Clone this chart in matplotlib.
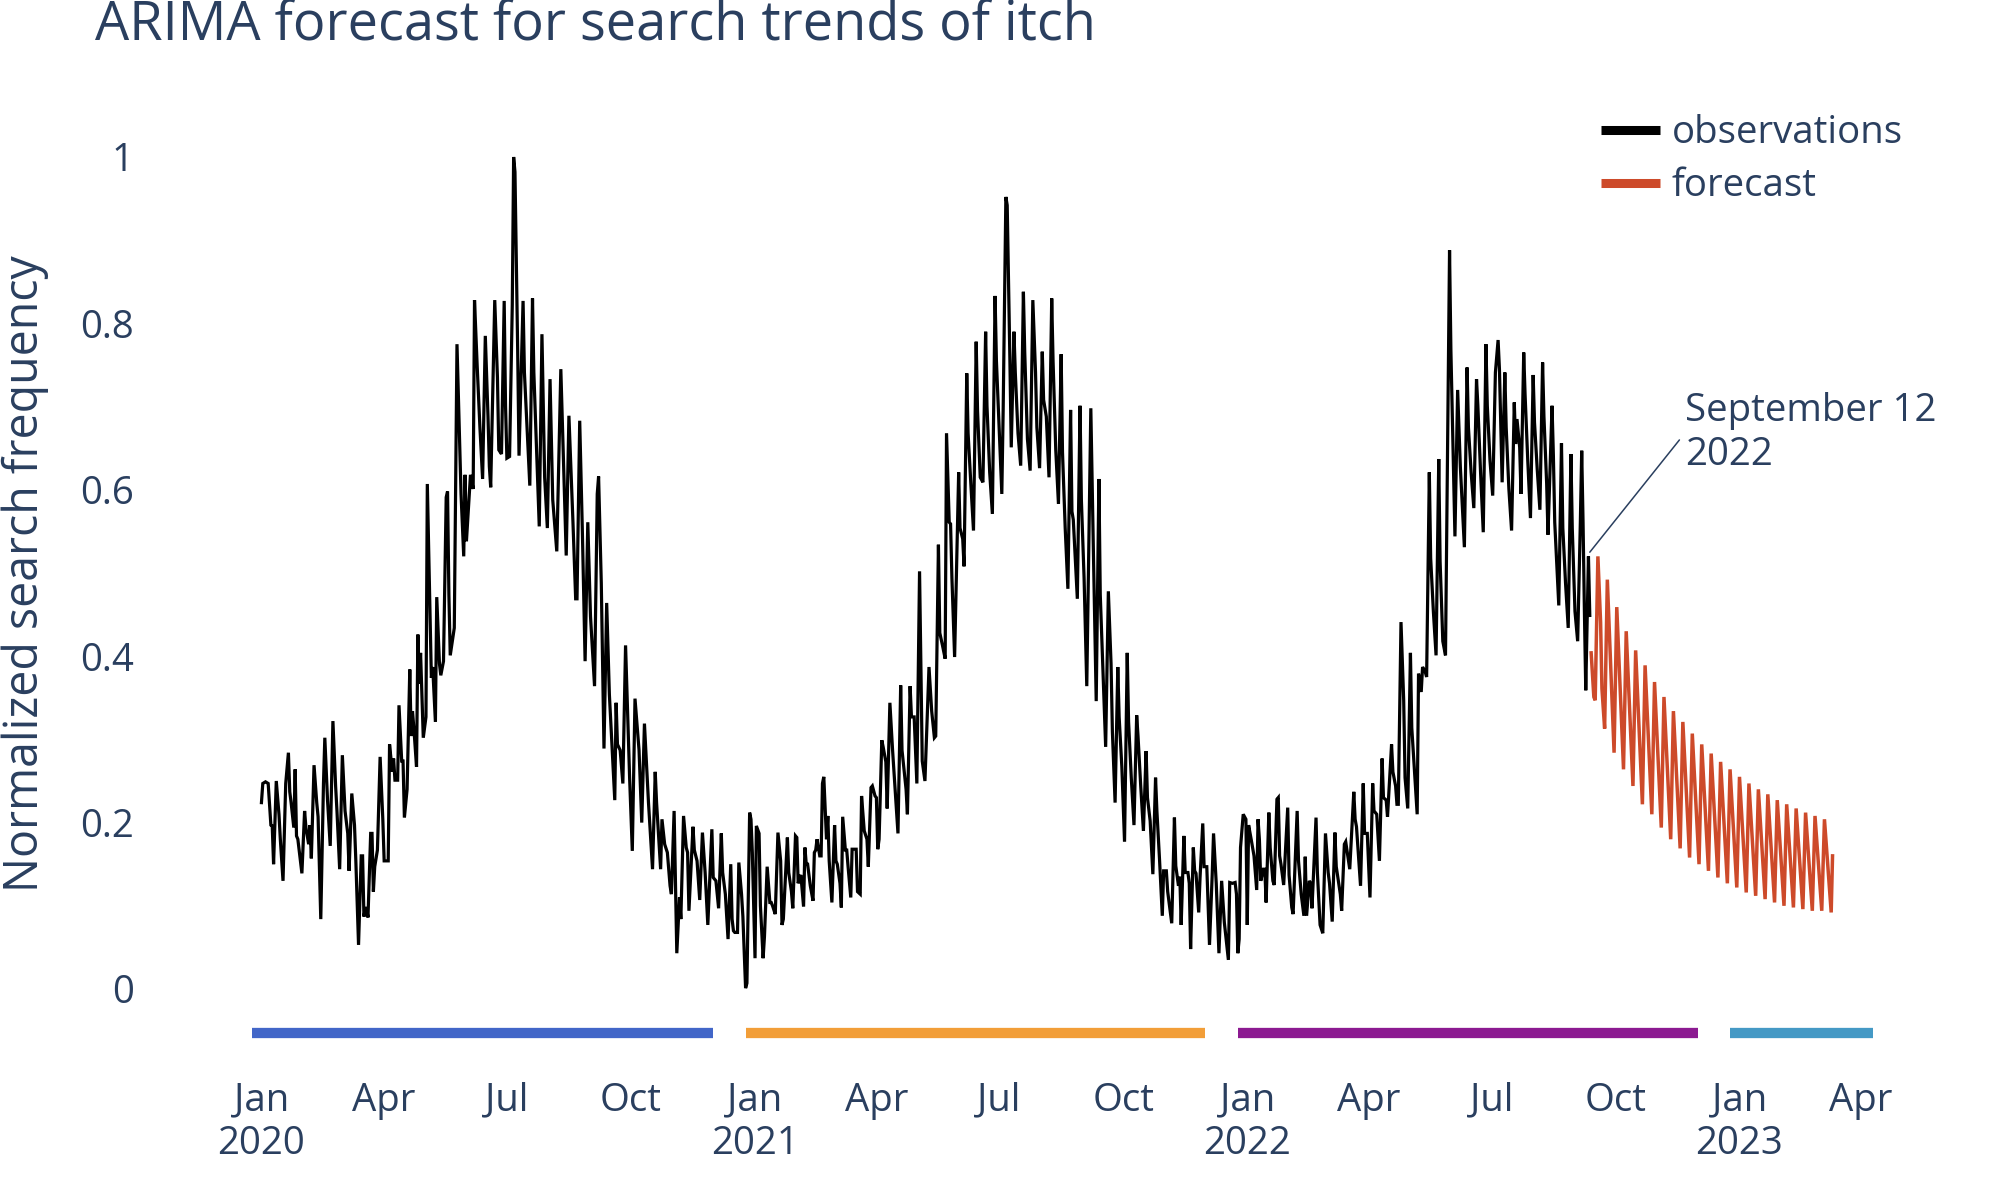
import numpy as np
import pandas as pd
import matplotlib
matplotlib.use('Agg')
import matplotlib.pyplot as plt
from matplotlib.lines import Line2D

# ==== Data ====
START = np.datetime64('2020-01-01')

# observations: day offset from 2020-01-01 and normalized value at each vertex
obs_day = [
    0, 1, 3, 5, 7, 8, 9, 11, 13, 14,
    16, 18, 20, 21, 22, 24, 25, 26, 27, 30,
    32, 33, 35, 36, 37, 39, 41, 42, 44, 46,
    47, 49, 51, 53, 55, 56, 58, 60, 62, 64,
    65, 67, 69, 70, 72, 74, 75, 76, 77, 78,
    79, 81, 82, 83, 84, 86, 88, 90, 91, 94,
    95, 97, 98, 99, 101, 102, 104, 105, 106, 108,
    110, 111, 112, 113, 115, 116, 117, 118, 120, 122,
    123, 125, 126, 127, 129, 130, 132, 133, 135, 137,
    138, 139, 140, 143, 145, 148, 150, 151, 152, 155,
    157, 158, 160, 162, 164,
    166, 168, 169, 170, 173, 175, 176, 178, 180, 181,
    182, 184, 186, 187, 188, 190, 191, 194, 195, 199,
    201, 202, 206, 208, 210, 212, 214, 216, 219, 222,
    224, 226, 228, 231, 233, 234, 236, 238, 240, 242,
    244, 247, 249, 250, 252, 254, 256, 258, 262, 263,
    264, 266, 268, 270, 273, 275, 277, 280, 282, 284,
    287, 290, 292, 293, 296, 297, 299, 301, 303, 304,
    306, 308, 310, 311, 313, 315, 316, 317, 320, 321,
    323, 325, 327, 329, 331, 334, 335, 337,
    339, 341, 342, 344, 346, 348, 349, 350, 351, 353,
    354, 356, 357, 359, 360, 362, 363, 364, 366, 367,
    369, 370, 372, 373, 375, 377, 378, 379, 381, 383,
    385, 386, 387, 390, 391, 393, 394, 396, 397, 398,
    399, 400, 402, 403, 404, 405, 407, 409, 410, 411,
    412, 414, 415, 416, 417, 419, 420, 421, 423, 425,
    426, 427, 429, 430, 431, 433, 434, 435, 437, 438,
    440, 441, 442, 444, 445, 447, 449, 450, 452, 453,
    455, 456, 457, 458, 460, 461, 463, 464, 466, 468,
    472, 474, 475, 478, 479, 481, 482, 484, 486, 488,
    489, 490, 492, 495, 497, 499, 500, 502, 503, 505,
    507,
    508, 510, 511, 512, 514, 517, 518, 520, 521, 523,
    524, 526, 528, 530, 531, 533, 535, 537, 538, 540,
    542, 544, 545, 547, 549, 550, 552, 553, 555, 556,
    558, 559, 561, 563, 565, 566, 568, 570, 572, 574,
    575, 577, 579, 580, 582, 584, 586, 587, 589, 591,
    593, 594, 596, 598, 600, 601, 602, 605, 607, 608,
    610, 612, 615, 617, 619, 621, 622, 624, 626, 628,
    630, 631, 633, 635, 636, 638, 640, 642, 643, 645,
    647, 649, 650, 652, 654, 656, 657, 659, 661, 663,
    664, 666, 668, 669, 671, 672, 675, 677, 678,
    680, 681, 682, 684, 685, 687, 688, 689, 691, 692,
    693, 695, 696, 698, 699, 701, 703, 705, 706, 708,
    710, 712, 714, 717, 718, 720, 722, 723, 724, 725,
    726, 728, 730, 731, 732, 734, 736, 738, 739, 740,
    741, 743, 744, 745, 747, 748, 750, 751, 753, 754,
    755, 756, 758, 761, 762, 764, 765, 768, 769, 771,
    773, 774, 775, 777, 778, 779, 782, 783, 785, 787,
    789, 791, 792, 794, 796, 797, 800, 801, 803, 804,
    806, 807, 810, 811, 812, 815, 817, 818, 820, 822,
    824, 825, 827, 829, 831, 832, 834, 835, 838, 839,
    841, 842, 843, 845, 847, 848,
    850, 852, 853, 855, 857, 858, 860, 861, 863, 864,
    866, 867, 869, 871, 873, 874, 876, 878, 881, 882,
    885, 887, 889, 892, 894, 895, 897, 899, 901, 902,
    904, 906, 908, 909, 911, 913, 915, 917, 918, 920,
    922, 923, 925, 927, 929, 930, 931, 933, 934, 936,
    937, 939, 941, 943, 944, 946, 948, 950, 951, 953,
    954, 957, 958, 959, 962, 964, 965, 967, 969, 971,
    972, 974, 976, 978, 979, 980, 981, 982, 984, 985,
]
obs_val = [
    .224, .247, .249, .247, .197, .196, .150, .250, .210, .180,
    .130, .247, .284, .237, .224, .194, .264, .184, .180, .139,
    .214, .194, .174, .197, .157, .269, .224, .207, .084, .247,
    .302, .227, .172, .322, .244, .214, .144, .281, .214, .187,
    .142, .235, .197, .154, .053, .160, .160, .087, .097, .097,
    .086, .187, .187, .117, .147, .167, .279, .204, .154, .154,
    .294, .261, .277, .251, .251, .341, .274, .274, .206, .240,
    .384, .304, .334, .314, .267, .426, .367, .404, .302, .327,
    .607, .454, .374, .387, .321, .471, .391, .377, .394, .591,
    .598, .474, .401, .434, .775, .595, .520, .618, .538, .618,
    .601, .828, .748, .675, .613,
    .785, .688, .628, .603, .828, .735, .648, .643, .827, .701,
    .638, .640, .822, 1.00, .982, .768, .641, .827, .741, .605,
    .830, .741, .556, .787, .615, .554, .733, .588, .526, .745,
    .635, .521, .689, .561, .469, .469, .683, .548, .394, .561,
    .448, .364, .595, .616, .488, .289, .464, .354, .227, .344,
    .294, .287, .247, .413, .254, .166, .349, .287, .200, .319,
    .224, .144, .261, .224, .144, .204, .174, .164, .124, .114,
    .214, .043, .110, .084, .208, .170, .164, .094, .195, .167,
    .154, .107, .188, .140, .077, .192, .134, .130,
    .097, .187, .140, .114, .060, .150, .084, .070, .068, .068,
    .152, .114, .087, .001, .007, .212, .204, .164, .037, .196,
    .187, .100, .037, .063, .147, .104, .104, .100, .090, .188,
    .154, .077, .084, .182, .140, .117, .097, .184, .182, .127,
    .134, .137, .099, .170, .150, .150, .124, .106, .164, .167,
    .180, .160, .160, .247, .255, .180, .208, .154, .104, .197,
    .154, .150, .127, .098, .207, .167, .167, .147, .110, .168,
    .168, .168, .117, .114, .232, .190, .180, .147, .242, .244,
    .232, .230, .168, .180, .299, .291, .273, .217, .344, .287,
    .187, .365, .287, .240, .210, .364, .327, .327, .247, .502,
    .387, .274, .250, .387, .334, .302, .304, .534, .428, .413,
    .397,
    .668, .561, .559, .494, .399, .621, .554, .541, .508, .740,
    .668, .608, .551, .778, .695, .615, .609, .790, .701, .621,
    .571, .833, .755, .675, .595, .695, .952, .942, .755, .651,
    .790, .741, .668, .629, .838, .765, .661, .623, .828, .741,
    .675, .626, .766, .708, .688, .615, .830, .755, .648, .583,
    .763, .645, .554, .481, .696, .574, .564, .469, .701, .588,
    .494, .364, .698, .518, .346, .613, .474, .381, .291, .478,
    .391, .309, .224, .387, .327, .267, .177, .404, .321, .254,
    .197, .329, .304, .244, .190, .286, .230, .202, .138, .254,
    .214, .154, .088, .142, .142, .117, .079, .206, .148,
    .124, .135, .077, .184, .140, .140, .127, .048, .170, .142,
    .139, .092, .134, .199, .147, .147, .053, .137, .187, .127,
    .043, .130, .080, .035, .128, .127, .128, .114, .043, .060,
    .170, .210, .204, .077, .197, .179, .160, .119, .204, .180,
    .130, .144, .144, .104, .212, .170, .130, .125, .228, .230,
    .160, .150, .125, .218, .137, .098, .090, .214, .154, .114,
    .088, .159, .088, .130, .127, .097, .206, .140, .077, .067,
    .187, .140, .127, .081, .188, .147, .114, .094, .174, .177,
    .155, .144, .237, .204, .195, .124, .247, .187, .187, .110,
    .247, .214, .210, .154, .277, .230, .227, .207, .294, .261,
    .244, .222, .222, .441, .347, .254,
    .217, .404, .314, .261, .210, .379, .357, .387, .381, .375,
    .621, .518, .454, .401, .637, .514, .418, .401, .888, .768,
    .544, .720, .628, .531, .747, .675, .621, .578, .733, .701,
    .621, .549, .775, .701, .635, .593, .741, .780, .745, .609,
    .741, .675, .601, .551, .705, .655, .685, .651, .595, .765,
    .715, .635, .566, .738, .681, .625, .576, .753, .688, .608,
    .546, .701, .641, .561, .461, .656, .554, .488, .434, .643,
    .554, .454, .418, .562, .647, .561, .454, .359, .520, .449,
]

# ARIMA forecast vertices (weekly peaks / troughs)
fc_day = [986, 988, 989, 991, 993, 994, 996, 998,
          1003, 1005, 1010, 1012, 1017, 1019, 1024, 1026, 1031, 1033,
          1038, 1040, 1045, 1047, 1052, 1054, 1059, 1061, 1066, 1068,
          1073, 1075, 1080, 1082, 1087, 1089, 1094, 1096, 1101, 1103,
          1108, 1110, 1115, 1117, 1122, 1124, 1129, 1131, 1136, 1138,
          1143, 1145, 1150, 1152, 1157, 1159, 1164, 1165]
fc_val = [0.404, 0.351, 0.347, 0.520, 0.441, 0.361, 0.313, 0.492,
          0.284, 0.459, 0.264, 0.430, 0.244, 0.407, 0.222, 0.389, 0.210, 0.369,
          0.194, 0.351, 0.180, 0.334, 0.169, 0.321, 0.158, 0.307, 0.150, 0.294,
          0.142, 0.283, 0.134, 0.273, 0.127, 0.264, 0.122, 0.255, 0.116, 0.247,
          0.112, 0.240, 0.108, 0.234, 0.104, 0.227, 0.100, 0.222, 0.098, 0.217,
          0.096, 0.212, 0.094, 0.208, 0.094, 0.204, 0.092, 0.160]

# coloured year bars under the series
bar_start = ['2019-12-25', '2020-12-25', '2021-12-25', '2022-12-25']
bar_end = ['2020-12-01', '2021-12-01', '2022-12-01', '2023-04-10']
bar_y = -0.053
bar_colors = ['#4266c8', '#f29e38', '#8c1a91', '#4499c5']

ann_date = '2022-09-12'
ann_y = 0.525
ann_text = 'September 12\n2022'

title = 'ARIMA forecast for search trends of itch'
y_title = 'Normalized search frequency'
y_ticks = [0, 0.2, 0.4, 0.6, 0.8, 1]

# ==== Style ====
TEXT = '#2a3f5f'
FC_COLOR = '#cd4a2a'
FONT = ['Open Sans', 'DejaVu Sans']
plt.rcParams['font.family'] = FONT
W, H = 1992, 1185
DPI = 100

obs_dates = START + np.array(obs_day).astype('timedelta64[D]')
fc_dates = START + np.array(fc_day).astype('timedelta64[D]')

fig = plt.figure(figsize=(W / DPI, H / DPI), dpi=DPI)
ax = fig.add_axes([252 / W, 1 - 1040 / H, (1873 - 252) / W, 890 / H])

ax.plot(obs_dates, obs_val, color='black', lw=2.3, solid_joinstyle='miter',
        label='observations')
ax.plot(fc_dates, fc_val, color=FC_COLOR, lw=2.5, solid_joinstyle='miter',
        label='forecast')

for s, e, c in zip(bar_start, bar_end, bar_colors):
    ax.plot([np.datetime64(s), np.datetime64(e)], [bar_y, bar_y], color=c,
            lw=7.4, solid_capstyle='butt')

ax.set_xlim(np.datetime64(bar_start[0]), np.datetime64(bar_end[-1]))
ax.set_ylim(-0.0613, 1.0084)

# ==== Axes / ticks ====
for sp in ax.spines.values():
    sp.set_visible(False)

ticks = pd.date_range('2020-01-01', '2023-04-01', freq='QS')
labels = [t.strftime('%b') + ('\n' + str(t.year) if t.month == 1 else '') for t in ticks]
ax.set_xticks(ticks)
ax.set_xticklabels(labels, fontsize=27.6, color=TEXT, linespacing=1.2)
ax.set_yticks(y_ticks)
ax.set_yticklabels([f'{v:g}' for v in y_ticks], fontsize=27.6, color=TEXT)
ax.tick_params(axis='x', length=0, pad=30)
ax.tick_params(axis='y', length=0, pad=85)

fig.text(95 / W, 1 - 40 / H, title, fontsize=39, color=TEXT, ha='left', va='baseline')
fig.text(25 / W, 1 - 574 / H, y_title, fontsize=33.5, color=TEXT, rotation=90,
         ha='center', va='center')

# ==== Legend ====
handles = [Line2D([], [], color='black', lw=6.5, solid_capstyle='butt'),
           Line2D([], [], color=FC_COLOR, lw=6.5, solid_capstyle='butt')]
leg = fig.legend(handles, ['observations', 'forecast'], loc='upper left',
                 bbox_to_anchor=(1601 / W, 1 - 114 / H), frameon=False,
                 fontsize=27.6, handlelength=1.55, handletextpad=0.3,
                 labelspacing=0.39, borderpad=0, borderaxespad=0)
for t in leg.get_texts():
    t.set_color(TEXT)

# ==== Annotation ====
ax.annotate(ann_text, xy=(np.datetime64(ann_date), ann_y), xytext=(95, 119),
            textcoords='offset pixels', fontsize=27.6, color=TEXT,
            ha='left', va='center', linespacing=1.2,
            arrowprops=dict(arrowstyle='-', color=TEXT, lw=1.1,
                            shrinkA=3, shrinkB=0, relpos=(0, 0.5)))

fig.savefig('out.png', dpi=DPI)
